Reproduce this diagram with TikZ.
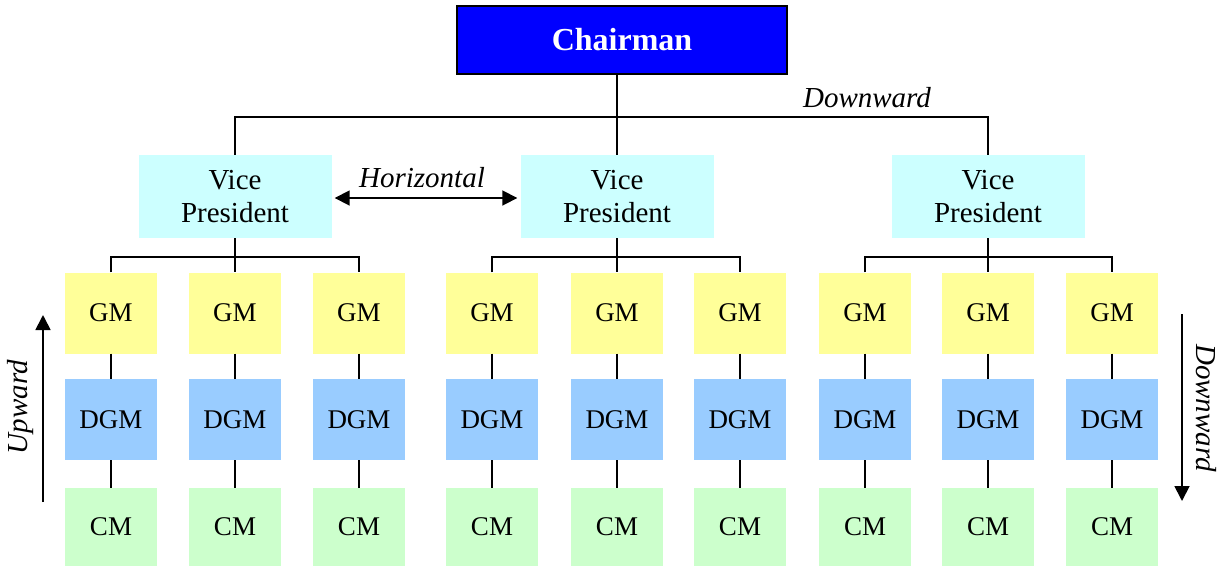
\documentclass[tikz,border=0pt]{standalone}
\usepackage{fontspec}
\setmainfont{Liberation Serif}
\usetikzlibrary{arrows.meta,calc}
\definecolor{chairblue}{HTML}{0000FF}
\definecolor{vpcyan}{HTML}{CCFFFF}
\definecolor{gmyellow}{HTML}{FFFF99}
\definecolor{dgmblue}{HTML}{99CCFF}
\definecolor{cmgreen}{HTML}{CCFFCC}
\begin{document}
\begin{tikzpicture}[x=1pt,y=-1pt,
  base/.style={inner sep=0pt, align=center, font=\fontsize{27}{30}\selectfont},
  chairbox/.style={base, draw=black, line width=2pt, fill=chairblue, text=white,
    minimum width=330pt, minimum height=68pt, font=\fontsize{32}{36}\selectfont\bfseries},
  vpbox/.style={base, fill=vpcyan, minimum width=193pt, minimum height=83pt, font=\fontsize{29}{33}\selectfont},
  gmbox/.style={base, fill=gmyellow, minimum width=92pt, minimum height=81pt},
  dgmbox/.style={base, fill=dgmblue, minimum width=92pt, minimum height=81pt},
  cmbox/.style={base, fill=cmgreen, minimum width=92pt, minimum height=78pt},
  conn/.style={draw=black, line width=1.6pt},
  flow/.style={draw=black, line width=1.8pt, -{Triangle[length=15pt,width=15pt]}},
  lbl/.style={inner sep=0pt, font=\fontsize{29}{33}\selectfont\itshape}
]
\useasboundingbox (0,0) rectangle (1227,566);

\node[chairbox] (chair) at (622,40) {Chairman};

\node[vpbox] (vp1) at (235,196.5) {Vice\\President};
\node[vpbox] (vp2) at (617,196.5) {Vice\\President};
\node[vpbox] (vp3) at (988,196.5) {Vice\\President};

\coordinate (bus) at (617,117);
\draw[conn] (chair.south -| vp2.north) -- (vp2.north);
\draw[conn] (vp1.north) |- (bus) -| (vp3.north);

\foreach \i/\x in {1/111,2/235,3/359,4/492,5/617,6/740,7/865,8/988,9/1112}{
  \node[gmbox] (gm\i) at (\x,313) {GM};
  \node[dgmbox] (dgm\i) at (\x,419.5) {DGM};
  \node[cmbox] (cm\i) at (\x,527) {CM};
  \draw[conn] (gm\i.south) -- (dgm\i.north);
  \draw[conn] (dgm\i.south) -- (cm\i.north);
}

\foreach \v/\a/\b/\c in {1/1/2/3,2/4/5/6,3/7/8/9}{
  \draw[conn] (vp\v.south) -- (gm\b.north);
  \draw[conn] (gm\a.north) |- ($(vp\v.south)+(0,19)$) -| (gm\c.north);
}

\coordinate (h1) at ($(vp1.east)+(3,1.5)$);
\coordinate (h2) at ($(vp2.west)+(-3,1.5)$);
\draw[draw=black, line width=1.8pt, {Triangle[length=15pt,width=15pt]}-{Triangle[length=15pt,width=15pt]}] (h1) -- (h2);
\node[lbl] (hlbl) at (422,178) {Horizontal};
\node[lbl] (dlbl) at (867,98) {Downward};

\coordinate (upS) at (43,502);
\coordinate (upE) at (43,315);
\draw[flow] (upS) -- (upE);
\node[lbl, rotate=90] (ulbl) at (21,407) {Upward};

\coordinate (dnS) at (1182,314);
\coordinate (dnE) at (1182,501);
\draw[flow] (dnS) -- (dnE);
\node[lbl, rotate=-90] (drlbl) at (1206,408) {Downward};
\end{tikzpicture}
\end{document}
